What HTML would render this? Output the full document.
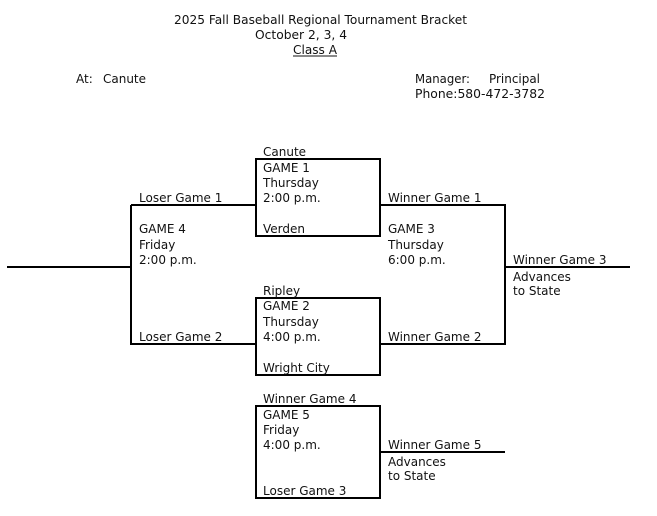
<!DOCTYPE html>
<html><head><style>html,body{margin:0;padding:0;background:#fff}svg{display:block}text{font-family:"DejaVu Sans","Liberation Sans",sans-serif;font-size:12px;fill:#111}</style></head>
<body>
<svg width="657" height="516" viewBox="0 0 657 516" xmlns="http://www.w3.org/2000/svg">
<g stroke="#000" stroke-width="2" fill="none">
<rect x="256" y="159" width="124" height="77"/>
<rect x="256" y="298" width="124" height="77"/>
<rect x="256" y="406" width="124" height="92"/>
<path d="M7 267H131M131 205H256M131 205V344H256M380 205H505V344H380M505 267H630M380 452H505"/>
</g>
<text x="174" y="24" textLength="293" lengthAdjust="spacingAndGlyphs">2025 Fall Baseball Regional Tournament Bracket</text>
<text x="255" y="39" textLength="92" lengthAdjust="spacingAndGlyphs">October 2, 3, 4</text>
<text x="293" y="54" textLength="44" lengthAdjust="spacingAndGlyphs">Class A</text>
<line x1="293" y1="56" x2="337" y2="56" stroke="#111" stroke-width="1"/>
<text x="76" y="83">At:</text>
<text x="103" y="83" textLength="43" lengthAdjust="spacingAndGlyphs">Canute</text>
<text x="415" y="83" textLength="55" lengthAdjust="spacingAndGlyphs">Manager:</text>
<text x="489" y="83" textLength="51" lengthAdjust="spacingAndGlyphs">Principal</text>
<text x="415" y="98" textLength="130" lengthAdjust="spacingAndGlyphs">Phone:580-472-3782</text>

<text x="263" y="156">Canute</text>
<text x="263" y="172">GAME 1</text>
<text x="263" y="187">Thursday</text>
<text x="263" y="202">2:00 p.m.</text>
<text x="263" y="233">Verden</text>

<text x="139" y="202">Loser Game 1</text>
<text x="139" y="233">GAME 4</text>
<text x="139" y="249">Friday</text>
<text x="139" y="264">2:00 p.m.</text>
<text x="139" y="341">Loser Game 2</text>

<text x="263" y="295">Ripley</text>
<text x="263" y="310">GAME 2</text>
<text x="263" y="326">Thursday</text>
<text x="263" y="341">4:00 p.m.</text>
<text x="263" y="372">Wright City</text>

<text x="388" y="202">Winner Game 1</text>
<text x="388" y="233">GAME 3</text>
<text x="388" y="249">Thursday</text>
<text x="388" y="264">6:00 p.m.</text>
<text x="388" y="341">Winner Game 2</text>

<text x="513" y="264">Winner Game 3</text>
<text x="513" y="281">Advances</text>
<text x="513" y="295">to State</text>

<text x="263" y="403">Winner Game 4</text>
<text x="263" y="419">GAME 5</text>
<text x="263" y="434">Friday</text>
<text x="263" y="449">4:00 p.m.</text>
<text x="263" y="495">Loser Game 3</text>

<text x="388" y="449">Winner Game 5</text>
<text x="388" y="466">Advances</text>
<text x="388" y="480">to State</text>
</svg>
</body></html>
